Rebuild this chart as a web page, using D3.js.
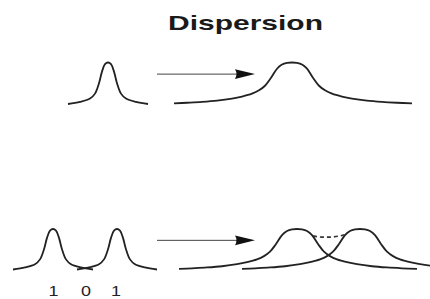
<!DOCTYPE html>
<html lang="en">
<head>
    <meta charset="UTF-8">
    <title>Dispersion</title>
    <script src="https://d3js.org/d3.v7.min.js"></script>
    <style>
        body {
            margin: 0;
            background: #fff;
        }
        svg {
            display: block;
        }
    </style>
</head>
<body>
    <div id="chart"></div>
    <script>
        const width = 430, height = 299;

        const titleText = "Dispersion";

        // pulse shapes: [offset from centre, relative amplitude]
        const narrowPulse = [
            [-40, 0], [-28, 0.05], [-18, 0.13], [-13, 0.25], [-9, 0.5], [-6, 0.78],
            [-3, 0.96], [0, 1], [3, 0.96], [6, 0.78], [9, 0.5], [13, 0.25],
            [18, 0.13], [28, 0.05], [40, 0]
        ];
        const broadPulse = [
            [-118, 0.015], [-105, 0.03], [-90, 0.05], [-75, 0.08], [-60, 0.13], [-50, 0.18],
            [-40, 0.25], [-33, 0.33], [-27, 0.44], [-21, 0.63], [-15, 0.85], [-10, 0.95],
            [-5, 0.99], [0, 1], [5, 0.99], [10, 0.95], [15, 0.85], [21, 0.63],
            [27, 0.44], [33, 0.33], [40, 0.25], [50, 0.18], [60, 0.13], [75, 0.08],
            [90, 0.05], [105, 0.03], [120, 0.015]
        ];

        // pulse centres per row
        const topInput = [108];
        const topOutput = [292];
        const bottomInput = [53, 117];
        const bottomOutput = [297, 360];

        // overlap (dashed) between the two spread pulses
        const overlapX = [313, 322, 330, 338, 346];
        const overlapAmp = [0.83, 0.80, 0.80, 0.82, 0.87];

        // arrows: start, tip, level
        const arrowStart = 157, arrowTip = 255, arrowLevel = 0.72;

        const bitLabels = ["1", "0", "1"];
        const bitX = [53.5, 86, 116];

        const svg = d3.select("#chart")
            .append("svg")
            .attr("width", width)
            .attr("height", height);

        const x = d3.scaleLinear().domain([0, 430]).range([0, 430]);
        const yTop = d3.scaleLinear().domain([0, 1]).range([104, 62.5]);
        const yBottom = d3.scaleLinear().domain([0, 1]).range([269.5, 229]);

        svg.append("text")
            .attr("x", 245.5)
            .attr("y", 30)
            .attr("text-anchor", "middle")
            .attr("textLength", 155)
            .attr("lengthAdjust", "spacingAndGlyphs")
            .style("font-family", "'Liberation Sans', Arial, sans-serif")
            .style("font-weight", "bold")
            .style("font-size", "21px")
            .style("fill", "#1a1a1a")
            .text(titleText);

        function drawPulse(center, shape, y) {
            const line = d3.line()
                .x(d => x(center + d[0]))
                .y(d => y(d[1]))
                .curve(d3.curveCatmullRom.alpha(0.5));
            svg.append("path")
                .attr("d", line(shape))
                .attr("fill", "none")
                .attr("stroke", "#222")
                .attr("stroke-width", 1.8);
        }

        topInput.forEach(c => drawPulse(c, narrowPulse, yTop));
        topOutput.forEach(c => drawPulse(c, broadPulse, yTop));
        bottomInput.forEach(c => drawPulse(c, narrowPulse, yBottom));
        bottomOutput.forEach(c => drawPulse(c, broadPulse, yBottom));

        // dashed overlap
        const dashLine = d3.line()
            .x(d => x(d[0]))
            .y(d => yBottom(d[1]))
            .curve(d3.curveMonotoneX);
        svg.append("path")
            .attr("d", dashLine(overlapX.map((v, i) => [v, overlapAmp[i]])))
            .attr("fill", "none")
            .attr("stroke", "#333")
            .attr("stroke-width", 1.6)
            .attr("stroke-dasharray", "4,3");

        // arrows
        [yTop, yBottom].forEach(y => {
            const yy = y(arrowLevel);
            const tip = x(arrowTip);
            svg.append("line")
                .attr("x1", x(arrowStart))
                .attr("x2", tip - 16)
                .attr("y1", yy)
                .attr("y2", yy)
                .attr("stroke", "#444")
                .attr("stroke-width", 1);
            svg.append("path")
                .attr("d", `M${tip},${yy} L${tip - 20},${yy - 4.8} Q${tip - 17},${yy} ${tip - 20},${yy + 4.8} Z`)
                .attr("fill", "#111");
        });

        svg.selectAll(".bit")
            .data(bitLabels)
            .enter()
            .append("text")
            .attr("class", "bit")
            .attr("x", (d, i) => x(bitX[i]))
            .attr("y", 296)
            .attr("text-anchor", "middle")
            .attr("textLength", 10)
            .attr("lengthAdjust", "spacingAndGlyphs")
            .style("font-family", "'Liberation Sans', Arial, sans-serif")
            .style("font-size", "14px")
            .style("fill", "#222")
            .text(d => d);
    </script>
</body>
</html>
